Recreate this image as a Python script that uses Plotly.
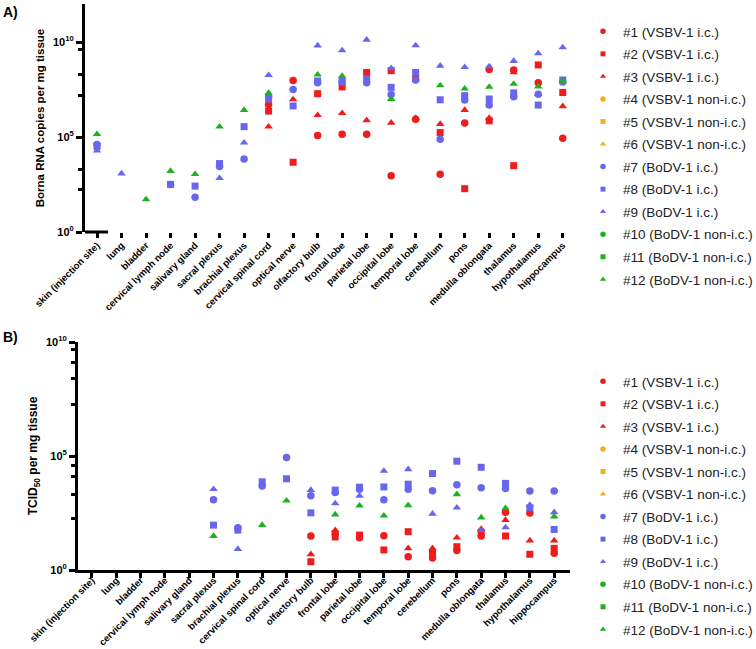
import plotly.graph_objects as go

W, H = 756, 649

categories = ["skin (injection site)", "lung", "bladder", "cervical lymph node", "salivary gland",
              "sacral plexus", "brachial plexus", "cervical spinal cord", "optical nerve", "olfactory bulb",
              "frontal lobe", "parietal lobe", "occipital lobe", "temporal lobe", "cerebellum", "pons",
              "medulla oblongata", "thalamus", "hypothalamus", "hippocampus"]

series_names = ["#1 (VSBV-1 i.c.)", "#2 (VSBV-1 i.c.)", "#3 (VSBV-1 i.c.)",
                "#4 (VSBV-1 non-i.c.)", "#5 (VSBV-1 non-i.c.)", "#6 (VSBV-1 non-i.c.)",
                "#7 (BoDV-1 i.c.)", "#8 (BoDV-1 i.c.)", "#9 (BoDV-1 i.c.)",
                "#10 (BoDV-1 non-i.c.)", "#11 (BoDV-1 non-i.c.)", "#12 (BoDV-1 non-i.c.)"]

N = None
EMPTY = [N] * 20

# Panel A: Borna RNA copies per mg tissue
rna_1 = [N, N, N, N, N, N, N, 5.2e6, 9.5e7, 1.2e5, 1.4e5, 1.4e5, 9.0e2, 8.5e5, 1.1e3, 5.5e5, 3.6e8, 3.4e8, 7.2e7, 8.5e4]
rna_2 = [N, N, N, N, N, N, N, 2.3e6, 4.7e3, 1.9e7, 4.3e7, 2.5e8, 3.1e8, 1.2e8, 1.7e5, 1.9e2, 7.1e5, 3.1e3, 6.2e8, 2.2e7]
rna_3 = [N, N, N, N, N, N, N, 3.5e5, 9.5e6, 1.4e6, 1.8e6, 7.6e5, 5.6e5, 1.0e6, 4.8e5, 2.6e6, 1.0e6, 2.5e8, 1.8e7, 4.1e6]
rna_4 = EMPTY
rna_5 = EMPTY
rna_6 = EMPTY
rna_7 = [4.0e4, N, N, 3.2e2, 68, 2.8e3, 6.9e3, 1.3e7, 3.2e7, 7.1e7, 7.8e7, 7.2e7, 1.7e7, 1.0e8, 7.6e4, 8.9e6, 4.8e6, 1.3e7, 1.8e7, 7.9e7]
rna_8 = [3.2e4, N, N, 3.2e2, 2.6e2, 4.0e3, 3.5e5, 1.0e7, 4.3e6, 8.9e7, 8.9e7, 1.1e8, 4.1e7, 2.5e8, 9.1e6, 1.5e7, 1.0e7, 2.1e7, 4.8e6, 1.0e8]
rna_9 = [1.9e4, 1.2e3, N, N, N, 6.8e2, 5.0e4, 1.8e8, N, 6.5e9, 3.6e9, 1.3e10, 4.1e8, 6.6e9, 5.6e8, 4.7e8, 5.2e8, 1.0e9, 2.5e9, 5.2e9]
rna_10 = EMPTY
rna_11 = EMPTY
rna_12 = [1.4e5, N, 52, 1.6e3, 1.1e3, 3.5e5, 2.6e6, 2.1e7, N, 1.9e8, 1.6e8, N, 1.0e7, N, 5.2e7, 3.5e7, 4.3e7, 6.2e7, 4.5e7, 8.9e7]

# Panel B: TCID50 per mg tissue
tcid_1 = [N, N, N, N, N, N, N, N, N, 31, 40, 26, 32, 3.8, 3.4, 7.1, 31, 340, 320, 5.4]
tcid_2 = [N, N, N, N, N, N, N, N, N, 2.3, 28, 34, 7.6, 48, 5.6, 10.5, 44, 31, 4.9, 8.9]
tcid_3 = [N, N, N, N, N, N, N, N, N, 4.9, 56, N, N, 8.9, 8.9, 26, 63, 155, 19.5, 19.5]
tcid_4 = EMPTY
tcid_5 = EMPTY
tcid_6 = EMPTY
tcid_7 = [N, N, N, N, N, 1.2e3, 72, 4.8e3, 8.5e4, 1.8e3, 2.5e3, 3.5e3, 1.2e3, 3.5e3, 3.0e3, 5.5e3, 4.1e3, 3.8e3, 2.9e3, 2.9e3]
tcid_8 = [N, N, N, N, N, 93, 56, 7.4e3, 1.0e4, 320, 3.2e3, 4.3e3, 4.4e3, 5.8e3, 1.7e4, 5.9e4, 3.2e4, 6.3e3, 540, 60]
tcid_9 = [N, N, N, N, N, 3.5e3, 8.3, N, N, 3.2e3, 830, 1.8e3, 2.2e4, 2.6e4, 290, 540, 56, 74, 710, 340]
tcid_10 = EMPTY
tcid_11 = EMPTY
tcid_12 = [N, N, N, N, N, 31, N, 93, 1.1e3, N, 270, 660, 240, 690, N, 2.1e3, 200, 510, N, 220]

rna_data = [rna_1, rna_2, rna_3, rna_4, rna_5, rna_6, rna_7, rna_8, rna_9, rna_10, rna_11, rna_12]
tcid_data = [tcid_1, tcid_2, tcid_3, tcid_4, tcid_5, tcid_6, tcid_7, tcid_8, tcid_9, tcid_10, tcid_11, tcid_12]

group_colors = ["#ee1c1c", "#f5ac1e", "#6767ee", "#1fb01f"]
shapes_cycle = ["circle", "square", "triangle-up"]
marker_sizes = {"circle": 7.5, "square": 7, "triangle-up": 7.5}
legend_sizes = {"circle": 5.5, "square": 5, "triangle-up": 5.5}

FONT = "Liberation Sans, Arial, sans-serif"

fig = go.Figure()
for panel, data, xa, ya, lg in [("A", rna_data, "x", "y", "legend"), ("B", tcid_data, "x2", "y2", "legend2")]:
    for i, (name, vals) in enumerate(zip(series_names, data)):
        sym = shapes_cycle[i % 3]
        col = group_colors[i // 3]
        grp = f"{panel}{i}"
        fig.add_trace(go.Scatter(
            x=categories, y=vals, mode="markers", name=name, legendgroup=grp,
            marker=dict(symbol=sym, color=col, size=marker_sizes[sym], line=dict(width=0)),
            xaxis=xa, yaxis=ya, showlegend=False, cliponaxis=False))
        # legend entry (smaller symbol, as in the reference)
        fig.add_trace(go.Scatter(
            x=[N], y=[N], mode="markers", name=name, legendgroup=grp,
            marker=dict(symbol=sym, color=col, size=legend_sizes[sym], line=dict(width=0)),
            xaxis=xa, yaxis=ya, legend=lg, showlegend=True, hoverinfo="skip"))

def px_x(p):
    return p / W

def px_y(p):
    return 1 - p / H

tickvals = [1, 1e5, 1e10]
ticktext = ["10<sup>0</sup>", "10<sup>5</sup>", "10<sup>10</sup>"]
minor_A = [10 ** v for v in [9.63, 8.3, 7.2, 3.3, 2.26]]
minor_B = [10 ** v for v in [9.65, 9.08, 8.42, 7.28, 4.6, 4.08, 3.29, 2.28]]

yaxis_common = dict(type="log", showline=True, linewidth=3, linecolor="black", ticks="outside",
                    ticklen=6, tickwidth=3, tickcolor="black", tickvals=tickvals, ticktext=ticktext,
                    tickfont=dict(family=FONT, size=11, color="black", weight="bold"),
                    showgrid=False, zeroline=False, automargin=False)

xfont = dict(family=FONT, size=9.6, color="black", weight="bold")

legend_common = dict(xanchor="left", yanchor="top", tracegroupgap=2,
                     font=dict(family=FONT, size=13.5, color="#222222"), bgcolor="rgba(0,0,0,0)",
                     itemclick=False, itemdoubleclick=False)

fig.update_layout(
    width=W, height=H, margin=dict(l=0, r=0, t=0, b=0, autoexpand=False),
    paper_bgcolor="white", plot_bgcolor="white",
    font=dict(family=FONT, color="black"),
    xaxis=dict(domain=[px_x(85), px_x(575)], range=[-0.49, 19.5], type="category",
               categoryorder="array", categoryarray=categories, anchor="y",
               showline=False, ticks="outside", ticklen=5, tickwidth=2.5, tickcolor="black",
               tickangle=-45, ticklabelstandoff=-2, tickfont=xfont,
               showgrid=False, zeroline=False, automargin=False),
    yaxis=dict(domain=[px_y(232), px_y(4)], range=[0, 12], anchor="x",
               minor=dict(tickvals=minor_A, ticks="outside", ticklen=4, tickwidth=2.5, tickcolor="black", showgrid=False),
               title=dict(text="Borna RNA copies per mg tissue", standoff=6,
                          font=dict(family=FONT, size=11.5, color="black", weight="bold")),
               **yaxis_common),
    xaxis2=dict(domain=[px_x(78), px_x(570)], range=[-0.57, 19.65], type="category",
                categoryorder="array", categoryarray=categories, anchor="y2",
                showline=True, linewidth=3, linecolor="black", ticks="outside", ticklen=5,
                tickwidth=3, tickcolor="black", tickangle=-45, ticklabelstandoff=-7,
                tickfont=xfont,
                showgrid=False, zeroline=False, automargin=False),
    yaxis2=dict(domain=[px_y(570), px_y(342)], range=[0, 10], anchor="x2",
                minor=dict(tickvals=minor_B, ticks="outside", ticklen=4, tickwidth=2.5, tickcolor="black", showgrid=False),
                title=dict(text="TCID<sub>50</sub> per mg tissue", standoff=6,
                           font=dict(family=FONT, size=12, color="black", weight="bold")),
                **yaxis_common),
    legend=dict(x=px_x(583), y=px_y(16), **legend_common),
    legend2=dict(x=px_x(583), y=px_y(366), **legend_common),
    shapes=[dict(type="line", xref="x", yref="y domain", x0=-0.49, x1=0.45, y0=0, y1=0,
                 line=dict(color="black", width=3))],
    annotations=[
        dict(text="A)", x=px_x(1), y=px_y(12), xref="paper", yref="paper", xanchor="left",
             yanchor="middle", showarrow=False, font=dict(family=FONT, size=14, color="black", weight="bold")),
        dict(text="B)", x=px_x(1), y=px_y(337), xref="paper", yref="paper", xanchor="left",
             yanchor="middle", showarrow=False, font=dict(family=FONT, size=14, color="black", weight="bold")),
    ],
)

fig.write_html("out.html", config={"displayModeBar": False},
               post_script="document.body.style.margin='0px';")
